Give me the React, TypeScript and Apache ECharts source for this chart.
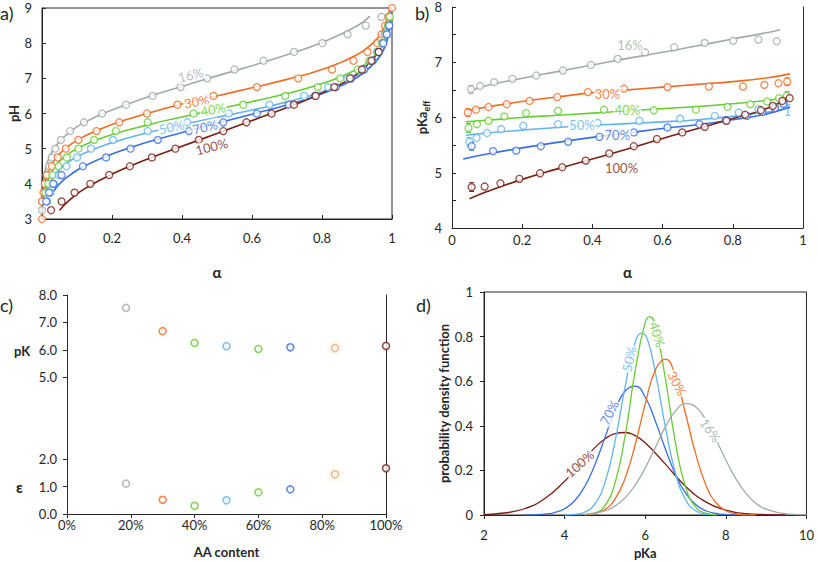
import React, { useEffect, useRef } from "react";
import * as echarts from "echarts";

// ---------- Panel a: titration points (alpha, pH) ----------
const aPt16A = [0, 0.003, 0.006, 0.009, 0.013, 0.02, 0.028, 0.038, 0.054, 0.08, 0.12, 0.172, 0.24, 0.316, 0.396, 0.472, 0.55, 0.633, 0.72, 0.801, 0.873, 0.925, 0.97];
const aPt16P = [3.25, 3.5, 3.75, 4, 4.25, 4.5, 4.75, 5, 5.25, 5.5, 5.75, 6, 6.25, 6.5, 6.75, 7, 7.25, 7.5, 7.75, 8, 8.25, 8.5, 8.75];
const aPt30A = [0, 0, 0.004, 0.008, 0.014, 0.028, 0.045, 0.068, 0.104, 0.156, 0.221, 0.3, 0.387, 0.49, 0.614, 0.732, 0.829, 0.89, 0.93, 0.958, 0.97, 0.98, 0.99, 1];
const aPt30P = [3, 3.5, 3.75, 4, 4.25, 4.5, 4.75, 5, 5.25, 5.5, 5.75, 6, 6.25, 6.5, 6.75, 7, 7.25, 7.5, 7.75, 8, 8.25, 8.5, 8.75, 9];
const aPt40A = [0.01, 0.018, 0.03, 0.047, 0.071, 0.104, 0.149, 0.211, 0.302, 0.433, 0.575, 0.695, 0.788, 0.852, 0.902, 0.935, 0.957, 0.971, 0.98, 0.988, 0.994];
const aPt40P = [3.75, 4, 4.25, 4.5, 4.75, 5, 5.25, 5.5, 5.75, 6, 6.25, 6.5, 6.75, 7, 7.25, 7.5, 7.75, 8, 8.25, 8.5, 8.75];
const aPt50A = [0.015, 0.024, 0.034, 0.049, 0.07, 0.1, 0.14, 0.203, 0.302, 0.415, 0.534, 0.65, 0.749, 0.817, 0.873, 0.92, 0.946, 0.962, 0.975, 0.985, 0.992];
const aPt50P = [3.5, 3.75, 4, 4.25, 4.5, 4.75, 5, 5.25, 5.5, 5.75, 6, 6.25, 6.5, 6.75, 7, 7.25, 7.5, 7.75, 8, 8.25, 8.5];
const aPt70A = [0.012, 0.02, 0.032, 0.056, 0.117, 0.183, 0.253, 0.331, 0.42, 0.518, 0.614, 0.705, 0.78, 0.84, 0.884, 0.92, 0.944, 0.962, 0.975, 0.985, 0.992];
const aPt70P = [3.5, 3.75, 4, 4.25, 4.5, 4.75, 5, 5.25, 5.5, 5.75, 6, 6.25, 6.5, 6.75, 7, 7.25, 7.5, 7.75, 8, 8.25, 8.5];
const aPt100A = [0.026, 0.056, 0.093, 0.138, 0.192, 0.251, 0.314, 0.381, 0.448, 0.518, 0.584, 0.656, 0.72, 0.782, 0.835, 0.88, 0.914, 0.941, 0.962];
const aPt100P = [3.25, 3.5, 3.75, 4, 4.25, 4.5, 4.75, 5, 5.25, 5.5, 5.75, 6, 6.25, 6.5, 6.75, 7, 7.25, 7.5, 7.75];

// ---------- Panel a: fitted curves ----------
const aFit16A = [0.003, 0.006, 0.01, 0.02, 0.03, 0.05, 0.08, 0.12, 0.2, 0.3, 0.4, 0.5, 0.6, 0.7, 0.8, 0.9, 0.937];
const aFit16P = [3.88, 4.19, 4.42, 4.74, 4.93, 5.2, 5.48, 5.74, 6.1, 6.46, 6.77, 7.07, 7.36, 7.67, 8.02, 8.49, 8.77];
const aFit30A = [0.003, 0.006, 0.01, 0.02, 0.03, 0.05, 0.08, 0.12, 0.2, 0.3, 0.4, 0.5, 0.6, 0.7, 0.8, 0.9, 0.95, 0.97, 0.98, 0.99, 0.993];
const aFit30P = [3.54, 3.85, 4.08, 4.4, 4.59, 4.85, 5.11, 5.35, 5.69, 6.0, 6.27, 6.5, 6.73, 6.97, 7.25, 7.67, 8.05, 8.31, 8.51, 8.85, 9.0];
const aFit40A = [0.008, 0.012, 0.02, 0.03, 0.05, 0.08, 0.12, 0.2, 0.3, 0.4, 0.5, 0.6, 0.7, 0.8, 0.9, 0.95, 0.97, 0.98, 0.99, 0.995, 0.997];
const aFit40P = [3.77, 3.95, 4.19, 4.39, 4.64, 4.88, 5.1, 5.4, 5.67, 5.9, 6.12, 6.34, 6.57, 6.85, 7.26, 7.63, 7.89, 8.09, 8.42, 8.73, 8.96];
const aFit50A = [0.012, 0.02, 0.03, 0.05, 0.08, 0.12, 0.2, 0.3, 0.4, 0.5, 0.6, 0.7, 0.8, 0.9, 0.95, 0.97, 0.98, 0.99, 0.995, 0.998];
const aFit50P = [3.73, 3.96, 4.15, 4.41, 4.65, 4.87, 5.17, 5.45, 5.68, 5.89, 6.1, 6.33, 6.62, 7.05, 7.44, 7.7, 7.9, 8.23, 8.54, 8.95];
const aFit70A = [0.032, 0.05, 0.08, 0.12, 0.2, 0.3, 0.4, 0.5, 0.6, 0.7, 0.8, 0.9, 0.95, 0.97, 0.98, 0.99, 0.995, 0.998];
const aFit70P = [3.77, 4.0, 4.25, 4.5, 4.85, 5.18, 5.46, 5.72, 5.98, 6.24, 6.56, 7.02, 7.44, 7.71, 7.91, 8.24, 8.55, 8.96];
const aFit100A = [0.05, 0.08, 0.12, 0.2, 0.3, 0.4, 0.5, 0.6, 0.7, 0.8, 0.9, 0.965];
const aFit100P = [3.25, 3.55, 3.85, 4.28, 4.7, 5.07, 5.43, 5.8, 6.17, 6.58, 7.12, 7.81];

// ---------- Panel b: effective pKa points ----------
const bPt16A = [0.054, 0.08, 0.12, 0.172, 0.24, 0.316, 0.396, 0.472, 0.55, 0.633, 0.72, 0.801, 0.873, 0.925];
const bPt16K = [6.51, 6.57, 6.64, 6.7, 6.76, 6.85, 6.95, 7.06, 7.18, 7.27, 7.35, 7.39, 7.41, 7.38];
const bPt30A = [0.045, 0.068, 0.104, 0.156, 0.221, 0.3, 0.387, 0.49, 0.614, 0.732, 0.829, 0.89, 0.93, 0.955];
const bPt30K = [6.09, 6.14, 6.19, 6.24, 6.3, 6.37, 6.46, 6.52, 6.55, 6.56, 6.56, 6.59, 6.62, 6.65];
const bPt40A = [0.047, 0.071, 0.104, 0.149, 0.211, 0.302, 0.433, 0.575, 0.695, 0.785, 0.85, 0.898, 0.932, 0.954];
const bPt40K = [5.81, 5.88, 5.94, 6.02, 6.08, 6.12, 6.14, 6.13, 6.14, 6.19, 6.24, 6.29, 6.35, 6.39];
const bPt50A = [0.049, 0.07, 0.1, 0.14, 0.203, 0.302, 0.415, 0.534, 0.65, 0.749, 0.817, 0.873, 0.92, 0.946];
const bPt50K = [5.56, 5.63, 5.72, 5.79, 5.85, 5.88, 5.9, 5.94, 5.98, 6.03, 6.09, 6.15, 6.19, 6.24];
const bPt70A = [0.056, 0.117, 0.183, 0.253, 0.331, 0.42, 0.518, 0.614, 0.705, 0.78, 0.84, 0.884, 0.92, 0.944];
const bPt70K = [5.48, 5.39, 5.4, 5.48, 5.56, 5.65, 5.73, 5.82, 5.88, 5.95, 6.03, 6.1, 6.17, 6.25];
const bPt100A = [0.056, 0.093, 0.138, 0.192, 0.251, 0.314, 0.381, 0.448, 0.518, 0.584, 0.656, 0.72, 0.782, 0.835, 0.88, 0.914, 0.941, 0.962];
const bPt100K = [4.74, 4.75, 4.81, 4.89, 4.99, 5.1, 5.22, 5.35, 5.48, 5.61, 5.73, 5.83, 5.94, 6.05, 6.13, 6.21, 6.3, 6.35];

// ---------- Panel b: fitted curves ----------
const bFitA = [0.04, 0.1, 0.2, 0.3, 0.4, 0.5, 0.6, 0.7, 0.8, 0.9, 0.963];
const bFit16A = [0.046, 0.1, 0.2, 0.3, 0.4, 0.5, 0.6, 0.7, 0.8, 0.9, 0.935];
const bFit16K = [6.47, 6.58, 6.71, 6.83, 6.95, 7.07, 7.18, 7.3, 7.42, 7.54, 7.59];
const bFit30K = [6.12, 6.19, 6.29, 6.37, 6.45, 6.5, 6.55, 6.6, 6.65, 6.72, 6.79];
const bFit40K = [5.92, 5.95, 6.0, 6.04, 6.08, 6.12, 6.16, 6.2, 6.25, 6.31, 6.37];
const bFit50K = [5.68, 5.72, 5.77, 5.82, 5.86, 5.89, 5.92, 5.96, 6.02, 6.1, 6.18];
const bFit70A = [0.032, 0.1, 0.2, 0.3, 0.4, 0.5, 0.6, 0.7, 0.8, 0.9, 0.963];
const bFit70K = [5.25, 5.34, 5.45, 5.55, 5.64, 5.72, 5.8, 5.87, 5.96, 6.07, 6.19];
const bFit100A = [0.05, 0.1, 0.2, 0.3, 0.4, 0.5, 0.6, 0.7, 0.8, 0.9, 0.965];
const bFit100K = [4.53, 4.66, 4.88, 5.07, 5.25, 5.43, 5.62, 5.8, 5.98, 6.17, 6.37];

// ---------- Panel b: error bars (alpha, low, high) ----------
const bErr16 = [[0.054, 6.43, 6.58]];
const bErr30 = [[0.045, 6.02, 6.16], [0.955, 6.58, 6.72]];
const bErr40 = [[0.047, 5.73, 5.89], [0.955, 6.31, 6.47]];
const bErr50 = [[0.049, 5.48, 5.64], [0.957, 6.04, 6.23]];
const bErr70 = [[0.056, 5.41, 5.55]];
const bErr100 = [[0.056, 4.66, 4.82]];

// ---------- Panel c ----------
const cContent = [0.185, 0.3, 0.4, 0.5, 0.6, 0.7, 0.84, 1.0];
const cPK = [7.53, 6.68, 6.25, 6.13, 6.03, 6.09, 6.06, 6.14];
const cEps = [1.11, 0.52, 0.3, 0.5, 0.79, 0.9, 1.45, 1.67];
const cYTicks = [0, 1, 2, 5, 6, 7, 8];

// ---------- Panel d: pKa distributions ----------
const dX16 = [4.5, 5, 5.25, 5.5, 5.75, 6, 6.25, 6.5, 6.75, 7, 7.25, 7.5, 7.75, 8, 8.25, 8.5, 8.75, 9, 9.5, 10];
const dY16 = [0.003, 0.019, 0.04, 0.077, 0.134, 0.211, 0.303, 0.395, 0.466, 0.499, 0.485, 0.427, 0.341, 0.247, 0.162, 0.097, 0.052, 0.026, 0.005, 0.001];
const dX30 = [4.5, 4.75, 5, 5.25, 5.5, 5.75, 6, 6.25, 6.5, 6.75, 7, 7.25, 7.5, 7.75, 8, 8.25, 8.5, 8.75];
const dY30 = [0.002, 0.007, 0.025, 0.071, 0.165, 0.315, 0.498, 0.65, 0.699, 0.62, 0.454, 0.275, 0.137, 0.056, 0.019, 0.005, 0.001, 0];
const dX40 = [4.5, 4.75, 5, 5.25, 5.5, 5.75, 6, 6.12, 6.25, 6.5, 6.75, 7, 7.25, 7.5, 7.75];
const dY40 = [0.001, 0.009, 0.042, 0.143, 0.355, 0.646, 0.864, 0.89, 0.848, 0.611, 0.324, 0.126, 0.036, 0.008, 0.001];
const dX50 = [4, 4.25, 4.5, 4.75, 5, 5.25, 5.5, 5.75, 5.91, 6.05, 6.25, 6.5, 6.75, 7, 7.25, 7.5, 7.75];
const dY50 = [0, 0.003, 0.013, 0.05, 0.146, 0.329, 0.575, 0.774, 0.816, 0.79, 0.641, 0.395, 0.188, 0.069, 0.019, 0.004, 0.001];
const dX70 = [3, 3.5, 3.75, 4, 4.25, 4.5, 4.75, 5, 5.25, 5.5, 5.75, 6, 6.25, 6.5, 6.75, 7, 7.25, 7.5, 7.75, 8, 8.5];
const dY70 = [0, 0.004, 0.011, 0.028, 0.064, 0.128, 0.225, 0.347, 0.469, 0.556, 0.578, 0.528, 0.422, 0.296, 0.182, 0.098, 0.047, 0.019, 0.007, 0.002, 0];
const dX100 = [2, 2.5, 3, 3.5, 4, 4.25, 4.5, 4.75, 5, 5.25, 5.5, 5.75, 6, 6.5, 7, 7.5, 8, 8.5, 9, 9.5];
const dY100 = [0.002, 0.009, 0.028, 0.073, 0.151, 0.201, 0.253, 0.302, 0.341, 0.365, 0.37, 0.356, 0.324, 0.228, 0.129, 0.059, 0.022, 0.006, 0.002, 0];

// ---------- curve labels ----------
const aLabels = [
  { t: "16%", x: 0.425, y: 7.1, r: 14 },
  { t: "30%", x: 0.442, y: 6.34, r: 10 },
  { t: "40%", x: 0.489, y: 6.12, r: 10 },
  { t: "50%", x: 0.37, y: 5.62, r: 12 },
  { t: "70%", x: 0.466, y: 5.62, r: 14 },
  { t: "100%", x: 0.485, y: 5.06, r: 14 },
];
const bLabels = [
  { t: "16%", x: 0.507, y: 7.31, r: 0 },
  { t: "30%", x: 0.443, y: 6.43, r: 0 },
  { t: "40%", x: 0.5, y: 6.14, r: 0 },
  { t: "50%", x: 0.37, y: 5.86, r: 0 },
  { t: "70%", x: 0.471, y: 5.68, r: 0 },
  { t: "100%", x: 0.483, y: 5.09, r: 0 },
];
const dLabels = [
  { t: "16%", x: 7.62, y: 0.38, r: -55 },
  { t: "30%", x: 6.79, y: 0.59, r: -62 },
  { t: "40%", x: 6.3, y: 0.81, r: -72 },
  { t: "50%", x: 5.6, y: 0.7, r: 78 },
  { t: "70%", x: 5.11, y: 0.46, r: 62 },
  { t: "100%", x: 4.37, y: 0.23, r: 42 },
];

const FONT = "Lato, 'Open Sans', 'DejaVu Sans', sans-serif";
const AXC = "#262626";
const COL: Record<string, string> = {
  "16%": "#a2aaa7",
  "30%": "#f26b24",
  "40%": "#66cc33",
  "50%": "#63b3f2",
  "60%": "#66cc33",
  "70%": "#3a6ee6",
  "84%": "#f7a77a",
  "100%": "#7a1e12",
};
const cColors = ["16%", "30%", "40%", "50%", "60%", "70%", "84%", "100%"];

const zip = (xs: number[], ys: number[]) => xs.map((x, i) => [x, ys[i]]);

function fitLine(xi: number, xs: number[], ys: number[], color: string, w = 1.6) {
  return {
    type: "line",
    xAxisIndex: xi,
    yAxisIndex: xi,
    data: zip(xs, ys),
    showSymbol: false,
    smooth: 0.5,
    lineStyle: { color, width: w },
    itemStyle: { color },
    z: 2,
    silent: true,
  };
}
function pts(xi: number, xs: number[], ys: number[], color: string) {
  return {
    type: "scatter",
    xAxisIndex: xi,
    yAxisIndex: xi,
    data: zip(xs, ys),
    symbol: "circle",
    symbolSize: 7,
    itemStyle: { color: "#fff", borderColor: color, borderWidth: 1.3 },
    z: 3,
    silent: true,
  };
}
function errBars(data: number[][], color: string) {
  return {
    type: "custom",
    xAxisIndex: 1,
    yAxisIndex: 1,
    data,
    z: 2,
    silent: true,
    renderItem: (params: any, api: any) => {
      const x = api.value(0);
      const p1 = api.coord([x, api.value(1)]);
      const p2 = api.coord([x, api.value(2)]);
      const w = 2.5;
      const style = { stroke: color, lineWidth: 1 };
      return {
        type: "group",
        children: [
          { type: "line", shape: { x1: p1[0], y1: p1[1], x2: p2[0], y2: p2[1] }, style },
          { type: "line", shape: { x1: p1[0] - w, y1: p1[1], x2: p1[0] + w, y2: p1[1] }, style },
          { type: "line", shape: { x1: p2[0] - w, y1: p2[1], x2: p2[0] + w, y2: p2[1] }, style },
        ],
      };
    },
  };
}
function labelSeries(xi: number, labels: any[], bg: boolean) {
  return {
    type: "scatter",
    xAxisIndex: xi,
    yAxisIndex: xi,
    symbolSize: 0,
    z: 10,
    silent: true,
    data: labels.map((l) => ({
      value: [l.x, l.y],
      label: {
        show: true,
        position: "inside",
        formatter: l.t,
        rotate: l.r,
        color: COL[l.t],
        fontSize: 13,
        fontFamily: FONT,
        backgroundColor: bg ? "#fff" : "transparent",
        padding: [0, 1],
      },
    })),
  };
}

const tickLbl = { color: AXC, fontSize: 13, fontFamily: FONT };
const nameStyle = { color: AXC, fontSize: 13, fontWeight: "bold", fontFamily: FONT };
const axLine = { show: true, lineStyle: { color: AXC, width: 1 } };

export default function App() {
  const ref = useRef<HTMLDivElement>(null);
  useEffect(() => {
    if (!ref.current) return;
    const chart = echarts.init(ref.current, undefined, { renderer: "svg" });
    const dec = (v: number) => (v === 0 ? "0" : v === 1 ? "1" : v.toFixed(1));
    const option: any = {
      animation: false,
      backgroundColor: "#fff",
      grid: [
        { left: 42, top: 8, width: 350, height: 211, show: true, borderColor: AXC, borderWidth: 1 },
        { left: 452, top: 7, width: 351, height: 221 },
        { left: 67, top: 295, width: 319, height: 219 },
        { left: 484, top: 292, width: 324, height: 223, show: true, borderColor: AXC, borderWidth: 1 },
      ],
      xAxis: [
        {
          gridIndex: 0, type: "value", min: 0, max: 1, interval: 0.2,
          axisLine: axLine, axisTick: { inside: true, length: 4, lineStyle: { color: AXC } },
          axisLabel: { ...tickLbl, margin: 12, formatter: dec }, splitLine: { show: false },
          name: "α", nameLocation: "middle", nameGap: 45, nameTextStyle: { ...nameStyle, fontSize: 15 },
        },
        {
          gridIndex: 1, type: "value", min: 0, max: 1, interval: 0.2,
          axisLine: axLine, axisTick: { inside: true, length: 4, lineStyle: { color: AXC } },
          axisLabel: { ...tickLbl, margin: 5, formatter: dec }, splitLine: { show: false },
          name: "α", nameLocation: "middle", nameGap: 36, nameTextStyle: { ...nameStyle, fontSize: 15 },
        },
        {
          gridIndex: 2, type: "value", min: 0, max: 1, interval: 0.2,
          axisLine: axLine, axisTick: { inside: false, length: 4, lineStyle: { color: AXC } },
          axisLabel: { ...tickLbl, margin: 4, formatter: (v: number) => Math.round(v * 100) + "%" },
          splitLine: { show: false },
          name: "AA content", nameLocation: "middle", nameGap: 31, nameTextStyle: nameStyle,
        },
        {
          gridIndex: 3, type: "value", min: 2, max: 10, interval: 2,
          axisLine: axLine, axisTick: { inside: false, length: 4, lineStyle: { color: AXC } },
          axisLabel: { ...tickLbl, margin: 13 }, splitLine: { show: false },
          name: "pKa", nameLocation: "middle", nameGap: 31, nameTextStyle: nameStyle,
        },
      ],
      yAxis: [
        {
          gridIndex: 0, type: "value", min: 3, max: 9, interval: 1,
          axisLine: axLine, axisTick: { inside: true, length: 4, lineStyle: { color: AXC } },
          axisLabel: { ...tickLbl, margin: 10 }, splitLine: { show: false },
          name: "pH", nameLocation: "middle", nameGap: 22, nameTextStyle: nameStyle,
        },
        {
          gridIndex: 1, type: "value", min: 4, max: 8, interval: 0.5,
          axisLine: axLine, axisTick: { inside: true, length: 4, lineStyle: { color: AXC } },
          axisLabel: { ...tickLbl, margin: 10, formatter: (v: number) => (Number.isInteger(v) ? String(v) : "") },
          splitLine: { show: false },
          name: "{m|pKa}{s|eff}", nameLocation: "middle", nameGap: 20,
          nameTextStyle: {
            ...nameStyle,
            rich: {
              m: { fontSize: 13, fontWeight: "bold", fontFamily: FONT, color: AXC, lineHeight: 18, verticalAlign: "middle" },
              s: { fontSize: 9, fontWeight: "bold", fontFamily: FONT, color: AXC, lineHeight: 18, verticalAlign: "bottom", padding: [6, 0, 0, 0] },
            },
          },
        },
        {
          gridIndex: 2, type: "value", min: 0, max: 8,
          axisLine: axLine,
          axisTick: { inside: false, length: 4, lineStyle: { color: AXC }, customValues: cYTicks },
          axisLabel: { ...tickLbl, margin: 10, customValues: cYTicks, formatter: (v: number) => v.toFixed(1) },
          splitLine: { show: false },
        },
        {
          gridIndex: 3, type: "value", min: 0, max: 1, interval: 0.2,
          axisLine: axLine, axisTick: { inside: false, length: 4, lineStyle: { color: AXC } },
          axisLabel: { ...tickLbl, margin: 11, formatter: dec }, splitLine: { show: false },
          name: "probability density function", nameLocation: "middle", nameGap: 32, nameTextStyle: nameStyle,
        },
        {
          gridIndex: 1, type: "value", min: 4, max: 8, position: "right",
          axisLine: axLine, axisTick: { show: false }, axisLabel: { show: false }, splitLine: { show: false },
        },
        {
          gridIndex: 2, type: "value", min: 0, max: 8, position: "right",
          axisLine: axLine, axisTick: { show: false }, axisLabel: { show: false }, splitLine: { show: false },
        },
      ],
      graphic: [
        { type: "text", left: 0, top: 4, style: { text: "a)", fontSize: 18, fontFamily: FONT, fill: AXC } },
        { type: "text", left: 415, top: 4, style: { text: "b)", fontSize: 18, fontFamily: FONT, fill: AXC } },
        { type: "text", left: 0, top: 296, style: { text: "c)", fontSize: 18, fontFamily: FONT, fill: AXC } },
        { type: "text", left: 416, top: 296, style: { text: "d)", fontSize: 18, fontFamily: FONT, fill: AXC } },
        { type: "text", left: 14, top: 344, style: { text: "pK", fontSize: 13, fontWeight: "bold", fontFamily: FONT, fill: AXC } },
        { type: "text", left: 16, top: 479, style: { text: "ε", fontSize: 15, fontWeight: "bold", fontFamily: FONT, fill: AXC } },
      ],
      series: [
        // panel a
        fitLine(0, aFit16A, aFit16P, COL["16%"]),
        fitLine(0, aFit30A, aFit30P, COL["30%"]),
        fitLine(0, aFit40A, aFit40P, COL["40%"]),
        fitLine(0, aFit50A, aFit50P, COL["50%"]),
        fitLine(0, aFit70A, aFit70P, COL["70%"]),
        fitLine(0, aFit100A, aFit100P, COL["100%"]),
        pts(0, aPt16A, aPt16P, COL["16%"]),
        pts(0, aPt30A, aPt30P, COL["30%"]),
        pts(0, aPt40A, aPt40P, COL["40%"]),
        pts(0, aPt50A, aPt50P, COL["50%"]),
        pts(0, aPt70A, aPt70P, COL["70%"]),
        pts(0, aPt100A, aPt100P, COL["100%"]),
        labelSeries(0, aLabels, true),
        // panel b
        fitLine(1, bFit16A, bFit16K, COL["16%"]),
        fitLine(1, bFitA, bFit30K, COL["30%"]),
        fitLine(1, bFitA, bFit40K, COL["40%"]),
        fitLine(1, bFitA, bFit50K, COL["50%"]),
        fitLine(1, bFit70A, bFit70K, COL["70%"]),
        fitLine(1, bFit100A, bFit100K, COL["100%"]),
        errBars(bErr16, COL["16%"]),
        errBars(bErr30, COL["30%"]),
        errBars(bErr40, COL["40%"]),
        errBars(bErr50, COL["50%"]),
        errBars(bErr70, COL["70%"]),
        errBars(bErr100, COL["100%"]),
        pts(1, bPt16A, bPt16K, COL["16%"]),
        pts(1, bPt30A, bPt30K, COL["30%"]),
        pts(1, bPt40A, bPt40K, COL["40%"]),
        pts(1, bPt50A, bPt50K, COL["50%"]),
        pts(1, bPt70A, bPt70K, COL["70%"]),
        pts(1, bPt100A, bPt100K, COL["100%"]),
        labelSeries(1, bLabels, true),
        // panel c
        {
          type: "scatter", xAxisIndex: 2, yAxisIndex: 2, symbol: "circle", symbolSize: 7, z: 3, silent: true,
          data: cContent.map((x, i) => ({
            value: [x, cPK[i]],
            itemStyle: {
              color: "#fff", borderColor: COL[cColors[i]], borderWidth: 1.6,
              shadowBlur: cColors[i] === "84%" ? 6 : 0, shadowColor: "rgba(205,235,160,0.95)",
            },
          })),
        },
        {
          type: "scatter", xAxisIndex: 2, yAxisIndex: 2, symbol: "circle", symbolSize: 7, z: 3, silent: true,
          data: cContent.map((x, i) => ({
            value: [x, cEps[i]],
            itemStyle: {
              color: "#fff", borderColor: COL[cColors[i]], borderWidth: 1.6,
              shadowBlur: cColors[i] === "84%" ? 6 : 0, shadowColor: "rgba(205,235,160,0.95)",
            },
          })),
        },
        // panel d
        fitLine(3, dX100, dY100, COL["100%"], 1.3),
        fitLine(3, dX70, dY70, COL["70%"], 1.3),
        fitLine(3, dX50, dY50, COL["50%"], 1.3),
        fitLine(3, dX40, dY40, COL["40%"], 1.3),
        fitLine(3, dX30, dY30, COL["30%"], 1.3),
        fitLine(3, dX16, dY16, COL["16%"], 1.3),
        labelSeries(3, dLabels, true),
      ],
    };
    chart.setOption(option);
    return () => chart.dispose();
  }, []);
  return (
    <div
      ref={ref}
      style={{ position: "absolute", left: 0, top: 0, width: 817, height: 561, background: "#fff" }}
    />
  );
}
